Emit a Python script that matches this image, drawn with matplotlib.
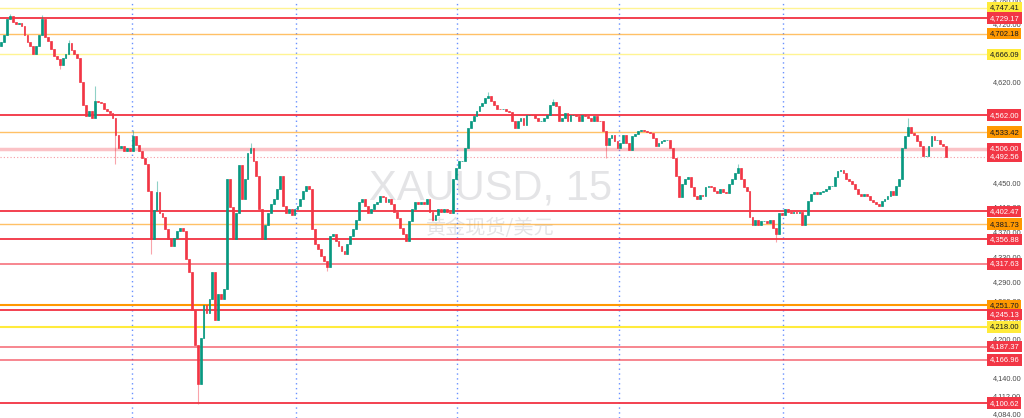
"""
XAUUSD 15m candles with horizontal levels, TradingView look
"""

import numpy as np
import matplotlib.pyplot as plt
from matplotlib.ticker import FixedLocator, NullLocator, FuncFormatter

# close of each 15 minute bar
closes = [
    4687, 4700, 4728, 4733, 4722, 4718, 4720, 4716, 4700, 4688, 4680, 4666, 4680, 4700, 4728,
    4697, 4690, 4676, 4664, 4658, 4648, 4660, 4666, 4685, 4674, 4666, 4660, 4618, 4579, 4560,
    4570, 4557, 4587, 4585, 4582, 4573, 4570, 4565, 4557, 4528, 4507, 4510, 4502, 4507, 4502, 4527,
    4512, 4502, 4490, 4481, 4436, 4357, 4405, 4434, 4400, 4394, 4373, 4357, 4346, 4360, 4370,
    4375, 4370, 4325, 4304, 4245, 4190, 4130, 4200, 4252, 4240, 4262, 4304, 4228, 4270, 4262, 4277,
    4456, 4410, 4357, 4400, 4478,
    4423, 4456, 4498, 4507, 4485, 4461, 4406, 4357, 4381, 4400, 4414, 4423, 4439, 4461, 4411, 4400,
    4406, 4397, 4406, 4411, 4423, 4436, 4444, 4439, 4373, 4350, 4341, 4330, 4322, 4313, 4362, 4365,
    4354, 4346, 4338, 4333, 4350, 4362, 4373, 4389, 4417, 4423, 4411, 4400, 4406, 4414, 4417, 4427,
    4426, 4417, 4423, 4414, 4402, 4392, 4376, 4365, 4354, 4386, 4406, 4417, 4414, 4417, 4414, 4423,
    4402, 4389, 4397, 4406, 4402, 4406, 4402, 4400,
    4456, 4473, 4485, 4486, 4507, 4540, 4552, 4560, 4570, 4577, 4582, 4592, 4594, 4587, 4579, 4573,
    4572, 4573, 4570, 4568, 4552, 4540, 4552, 4557, 4545, 4562, 4563, 4562, 4557, 4553, 4553, 4557,
    4562, 4579, 4585, 4577, 4552, 4557, 4565, 4552, 4562, 4563, 4560, 4552, 4562, 4560, 4557, 4553,
    4560, 4553, 4552, 4535,
    4512, 4523, 4528, 4518, 4507, 4515, 4528, 4515, 4503, 4527, 4530, 4535, 4537, 4535, 4533, 4532,
    4523, 4510, 4515, 4518, 4520, 4520, 4507, 4490, 4461, 4426, 4448, 4456, 4459, 4443, 4427, 4423,
    4429, 4427, 4443, 4444, 4443, 4436, 4432, 4439, 4434, 4432, 4448, 4456, 4465, 4473, 4456, 4443,
    4436, 4394, 4381, 4389, 4381, 4386, 4386, 4384, 4389, 4376, 4365, 4400, 4397, 4406, 4402, 4400,
    4402, 4400, 4402, 4381, 4397, 4419, 4431, 4434, 4431, 4434, 4436, 4439, 4444, 4444, 4459, 4468,
    4470, 4465, 4456, 4453, 4448, 4439, 4431, 4427, 4431, 4427, 4421, 4418, 4414, 4412, 4419, 4423,
    4427, 4436, 4429, 4444, 4456, 4507, 4527, 4543, 4532, 4528, 4518, 4510, 4493, 4493, 4510, 4527,
    4520, 4520, 4513, 4510, 4492.56,
]
first_open = 4680

# long wicks that stick out of the bodies (bar index -> price)
wick_high = {3: 4737, 14: 4735, 23: 4691, 32: 4612, 45: 4537, 53: 4452, 85: 4515,
             166: 4602, 188: 4590, 251: 4481, 309: 4557}
wick_low = {20: 4640, 39: 4481, 51: 4333, 67: 4099, 111: 4306, 206: 4490, 264: 4352}

# session separators (bar positions)
sessions = [44.5, 100.5, 155.5, 210.5, 266.5]

# drawn price levels and their kind
levels = [4747.41, 4729.17, 4702.18, 4666.09, 4562.00, 4533.42, 4506.00, 4492.56, 4402.47,
          4381.73, 4356.88, 4317.63, 4251.70, 4245.13, 4218.00, 4187.37, 4166.96, 4100.62]
level_kind = ['yellow', 'red', 'orange', 'yellow', 'red', 'orange', 'pink', 'last', 'red',
              'orange', 'red', 'redlight', 'orange2', 'red', 'yellow2', 'redlight', 'redlight', 'red']

price_ticks = [4760, 4720, 4670, 4620, 4570, 4450, 4410, 4370, 4330, 4290,
               4260, 4230, 4200, 4140, 4112, 4084]

UP = '#089981'
DOWN = '#F23645'

line_style = {
    'yellow':   dict(color='#FFEB3B', lw=1.0, alpha=0.55, ls='-'),
    'yellow2':  dict(color='#FFEB3B', lw=1.5, alpha=1.0, ls='-'),
    'red':      dict(color='#F23645', lw=1.4, alpha=0.95, ls='-'),
    'redlight': dict(color='#F23645', lw=1.4, alpha=0.6, ls='-'),
    'pink':     dict(color='#F23645', lw=2.5, alpha=0.3, ls='-'),
    'last':     dict(color='#F23645', lw=0.8, alpha=0.5, ls=(0, (1, 2))),
    'orange':   dict(color='#FF9800', lw=1.0, alpha=0.6, ls='-'),
    'orange2':  dict(color='#FF9800', lw=1.5, alpha=1.0, ls='-'),
}
label_style = {
    'yellow': ('#FFEB3B', '#131722'), 'yellow2': ('#FFEB3B', '#131722'),
    'red': ('#F23645', 'white'), 'redlight': ('#F23645', 'white'),
    'pink': ('#F23645', 'white'), 'last': ('#F23645', 'white'),
    'orange': ('#FF9800', '#131722'), 'orange2': ('#FF9800', '#131722'),
}
# small vertical nudges TradingView applies so labels do not overlap (points)
label_nudge = {4245.13: -3.5}

closes = np.array(closes, dtype=float)
opens = np.r_[first_open, closes[:-1]]
highs = np.maximum(opens, closes)
lows = np.minimum(opens, closes)
for i, v in wick_high.items():
    highs[i] = v
for i, v in wick_low.items():
    lows[i] = v
idx = np.arange(len(closes))
colors = np.where(closes >= opens, UP, DOWN)

plt.rcParams['font.family'] = ['Liberation Sans', 'DejaVu Sans']

fig = plt.figure(figsize=(10.24, 4.18), dpi=100)
ax = fig.add_axes([0, 0, 987 / 1024, 1])
ax.set_yscale('log')

# vertical session lines
for s in sessions:
    ax.axvline(s, color='#2962FF', lw=1.0, ls=(0, (1, 2.5)), alpha=0.7, zorder=1)

# horizontal levels
for p, k in zip(levels, level_kind):
    st = line_style[k]
    ax.axhline(p, color=st['color'], lw=st['lw'], alpha=st['alpha'], ls=st['ls'], zorder=2)

# candles
ax.vlines(idx, lows, highs, colors=colors, lw=0.8, alpha=0.45, zorder=3)
ax.bar(idx, np.abs(closes - opens), bottom=np.minimum(opens, closes),
       width=0.62, color=colors, edgecolor=colors, linewidth=0.5, zorder=4)

# watermark
ax.text(0.497, 0.548, 'XAUUSD, 15', transform=ax.transAxes, ha='center', va='center',
        fontsize=30, color='#787B86', alpha=0.2, zorder=0)
ax.text(0.497, 0.453, '黄金现货/美元', transform=ax.transAxes, ha='center', va='center',
        fontsize=14.5, color='#787B86', alpha=0.2, zorder=0,
        family=['Noto Sans CJK SC', 'DejaVu Sans'])

ax.set_xlim(-0.34, 335.9)
ax.set_ylim(4078, 4761)

ax.yaxis.tick_right()
ax.yaxis.set_major_locator(FixedLocator(price_ticks))
ax.yaxis.set_minor_locator(NullLocator())
ax.yaxis.set_major_formatter(FuncFormatter(lambda x, pos: '{:,.2f}'.format(x)))
ax.tick_params(axis='y', length=0, pad=4, labelsize=5.3, labelcolor='#4a4a4a')
ax.set_xticks([])
for sp in ax.spines.values():
    sp.set_visible(False)

# price labels on the scale
for p, k in zip(levels, level_kind):
    bg, fg = label_style[k]
    ax.annotate('{:,.2f}'.format(p), xy=(1.0, p), xycoords=ax.get_yaxis_transform(),
                xytext=(1.8, label_nudge.get(p, 0.0)), textcoords='offset points',
                ha='left', va='center', fontsize=5.5, color=fg, zorder=10,
                annotation_clip=False,
                bbox=dict(boxstyle='square,pad=0.3', fc=bg, ec='none'))

fig.savefig('out.png', dpi=100)
